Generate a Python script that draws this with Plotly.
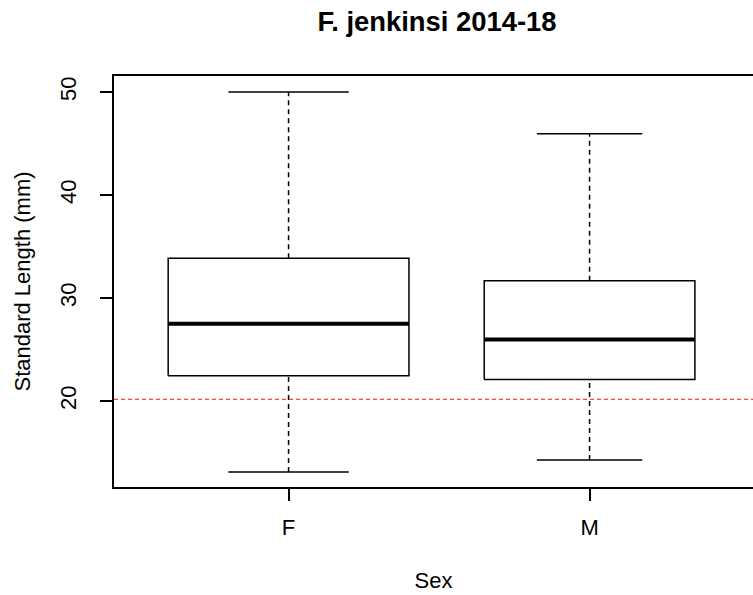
import plotly.graph_objects as go

# ---- data ----
categories = ["F", "M"]
mins = [13.1, 14.27]
q1s = [22.44, 22.08]
medians = [27.5, 25.97]
q3s = [33.85, 31.68]
maxs = [50.0, 45.95]
ref_line = 20.15
y_ticks = [20, 30, 40, 50]

title_text = "F. jenkinsi 2014-18"
x_title = "Sex"
y_title = "Standard Length (mm)"

# ---- style ----
BOX_WIDTHS = [0.8, 0.7]  # varwidth-like
FONT = "Liberation Sans, Arial, sans-serif"

fig = go.Figure()
positions = list(range(1, len(categories) + 1))

for pos, w, lo, a, m, b, hi in zip(positions, BOX_WIDTHS, mins, q1s, medians, q3s, maxs):
    h = w / 2
    # whiskers (dashed)
    fig.add_trace(go.Scatter(x=[pos, pos], y=[b, hi], mode="lines",
                             line=dict(color="black", width=1.5, dash="5px,4px"),
                             hoverinfo="skip", showlegend=False))
    fig.add_trace(go.Scatter(x=[pos, pos], y=[lo, a], mode="lines",
                             line=dict(color="black", width=1.5, dash="5px,4px"),
                             hoverinfo="skip", showlegend=False))
    # caps
    for v in (lo, hi):
        fig.add_trace(go.Scatter(x=[pos - w / 4, pos + w / 4], y=[v, v], mode="lines",
                                 line=dict(color="black", width=1.5),
                                 hoverinfo="skip", showlegend=False))
    # box
    fig.add_trace(go.Scatter(x=[pos - h, pos + h, pos + h, pos - h, pos - h],
                             y=[a, a, b, b, a], mode="lines",
                             fill="toself", fillcolor="white",
                             line=dict(color="black", width=1.5),
                             hoverinfo="skip", showlegend=False))
    # median
    fig.add_trace(go.Scatter(x=[pos - h, pos + h], y=[m, m], mode="lines",
                             line=dict(color="black", width=4),
                             hoverinfo="skip", showlegend=False))

fig.add_hline(y=ref_line, line=dict(color="#ff4040", width=1.4, dash="4px,3px"))

fig.update_layout(
    width=753, height=595,
    margin=dict(l=114, r=0, t=76, b=108, autoexpand=False),
    plot_bgcolor="white", paper_bgcolor="white",
    font=dict(family=FONT, size=22, color="black"),
    title=dict(text="<b>" + title_text + "</b>", font=dict(size=27.4, family=FONT, color="black"),
               xref="container", x=437 / 753, xanchor="center",
               yref="container", y=1 - 21 / 595, yanchor="middle"),
    xaxis=dict(range=[0.42, 2.543], tickvals=positions, ticktext=categories, automargin=False,
               showgrid=False, zeroline=False, showline=True, linecolor="black", linewidth=1.5,
               mirror=True, ticks="outside", ticklen=12, tickwidth=1.5, tickcolor="black",
               ticklabelstandoff=8, tickfont=dict(size=22),
               title=dict(text=x_title, font=dict(size=22), standoff=33)),
    yaxis=dict(range=[11.64, 51.56], tickvals=y_ticks, automargin=False,
               showgrid=False, zeroline=False, showline=True, linecolor="black", linewidth=1.5,
               ticks="outside", ticklen=12, tickwidth=1.5, tickcolor="black",
               tickangle=-90, ticklabelstandoff=15, tickfont=dict(size=22),
               title=dict(text=y_title, font=dict(size=22), standoff=20)),
)

fig.write_html("out.html", config={"displayModeBar": False},
               post_script="document.body.style.margin='0';")
